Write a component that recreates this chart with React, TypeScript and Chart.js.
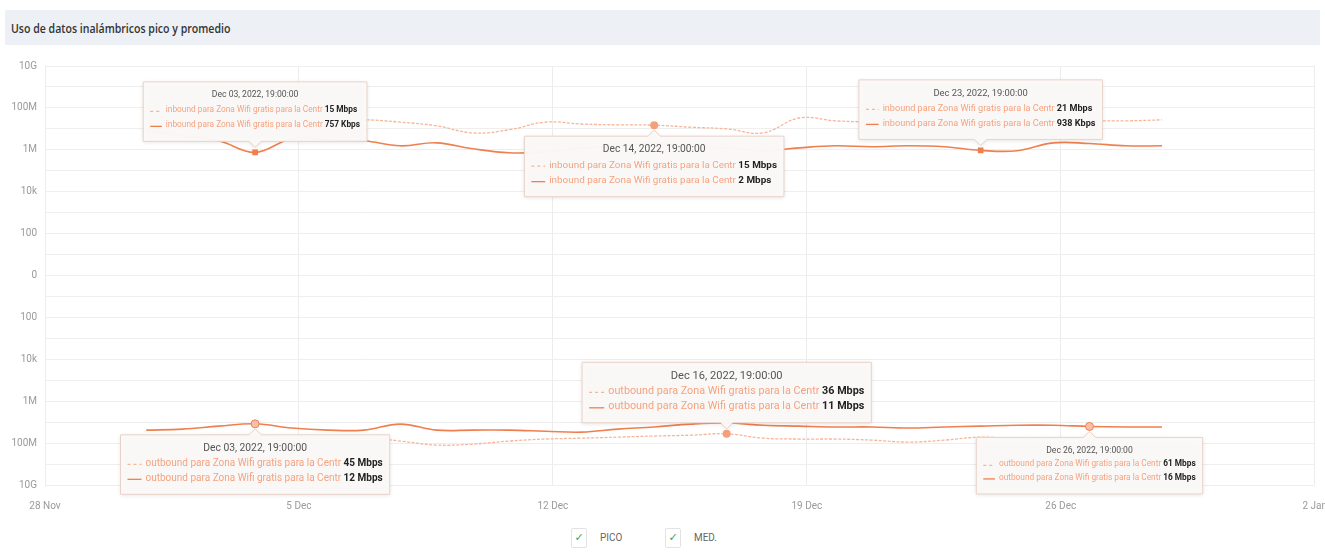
import React, { useEffect, useRef } from "react";
import { Chart, registerables } from "chart.js";

Chart.register(...registerables);

// ---------- data ----------
const days = [
  "Nov 30", "Dec 01", "Dec 02", "Dec 03", "Dec 04", "Dec 05", "Dec 06", "Dec 07", "Dec 08", "Dec 09",
  "Dec 10", "Dec 11", "Dec 12", "Dec 13", "Dec 14", "Dec 15", "Dec 16", "Dec 17", "Dec 18", "Dec 19",
  "Dec 20", "Dec 21", "Dec 22", "Dec 23", "Dec 24", "Dec 25", "Dec 26", "Dec 27", "Dec 28",
];
// Mbps
const inboundPeak = [17, 19, 17, 15, 21, 24, 27, 21, 14, 6.4, 9, 21, 17, 15.5, 15, 12, 10, 6.4, 33, 24, 21, 19, 17, 21, 19, 21, 24, 24, 27];
const inboundAvg = [9, 4.6, 2.7, 0.757, 3.3, 3.0, 2.7, 1.55, 2.15, 1.12, 0.72, 0.8, 1.2, 1.5, 2, 1.4, 1.2, 0.9, 1.24, 1.55, 1.4, 1.55, 1.4, 0.938, 0.9, 2.15, 2.0, 1.55, 1.55];
const outboundPeak = [46, 46, 42, 45, 52, 52, 52, 80, 124, 112, 80, 64, 58, 52, 46, 42, 36, 58, 64, 64, 72, 90, 72, 52, 64, 64, 61, 64, 64];
const outboundAvg = [24, 21.5, 15.5, 12, 19, 24, 24, 12.4, 24, 24, 24, 27, 30, 21.5, 17, 12.4, 11, 14, 15.5, 17, 17, 19, 17, 15.5, 14, 14, 16, 17, 17];

const xTickLabels = ["28 Nov", "5 Dec", "12 Dec", "19 Dec", "26 Dec", "2 Jan"];
const yTickLabels: Record<string, string> = { "10": "10G", "8": "100M", "6": "1M", "4": "10k", "2": "100", "0": "0" };

const seriesNames = ["PICO", "MED."];
const titleText = "Uso de datos inalámbricos pico y promedio";

// tooltips: dataset index of marker, point index, direction, placement, font size
const tooltipSpecs = [
  { ds: 1, idx: 3, dir: "inbound", place: "above", size: 8.3, gap: 15 },
  { ds: 0, idx: 14, dir: "inbound", place: "below", size: 9.9, gap: 15.5 },
  { ds: 1, idx: 23, dir: "inbound", place: "above", size: 9.1, gap: 15 },
  { ds: 3, idx: 3, dir: "outbound", place: "below", size: 10, gap: 15 },
  { ds: 2, idx: 16, dir: "outbound", place: "above", size: 10.8, gap: 15.5 },
  { ds: 3, idx: 26, dir: "outbound", place: "below", size: 8.3, gap: 13.5 },
];

// ---------- helpers ----------
const dayOffset = (d: string) => {
  const [m, n] = d.split(" ");
  const day = parseInt(n, 10);
  return (m === "Nov" ? day - 28 : day + 2) + 19 / 24;
};
const toLog = (mbps: number) => Math.log10(mbps * 1e6);
const fmt = (mbps: number) => (mbps >= 1 ? `${Math.round(mbps)} Mbps` : `${Math.round(mbps * 1000)} Kbps`);

const AVG_COLOR = "#f07f4e";
const PEAK_COLOR = "#f8b596";
const LABEL_COLOR = "#f5a27f";

const markerRadius = (ds: number) =>
  days.map((_, i) => (tooltipSpecs.some((t) => t.ds === ds && t.idx === i) ? 4 : 0));

const tooltipPlugin = {
  id: "staticTooltips",
  afterDatasetsDraw(chart: any) {
    const ctx = chart.ctx as CanvasRenderingContext2D;
    tooltipSpecs.forEach((t) => {
      const pt = chart.getDatasetMeta(t.ds).data[t.idx];
      const px = pt.x;
      const py = pt.y;
      const peak = t.dir === "inbound" ? inboundPeak[t.idx] : outboundPeak[t.idx];
      const avg = t.dir === "inbound" ? inboundAvg[t.idx] : outboundAvg[t.idx];
      const title = `${days[t.idx]}, 2022, 19:00:00`;
      const label = `${t.dir} para Zona Wifi gratis para la Centr `;
      const fam = "Roboto, 'Open Sans', sans-serif";
      const fN = `${t.size}px ${fam}`;
      const fB = `bold ${t.size}px ${fam}`;
      const fT = `${t.size + 0.3}px ${fam}`;
      ctx.save();
      ctx.font = fN;
      const labW = ctx.measureText(label).width;
      const symW = t.size * 1.4;
      ctx.font = fB;
      const v1 = fmt(peak);
      const v2 = fmt(avg);
      const valW = Math.max(ctx.measureText(v1).width, ctx.measureText(v2).width);
      ctx.font = fT;
      const titW = ctx.measureText(title).width;
      const lineW = symW + 4 + labW + valW;
      const w = Math.max(lineW, titW) + 14;
      const h = 13.5 + t.gap * 2 + 16;
      const caret = 6;
      const off = 5;
      const bx = px - w / 2;
      const by = t.place === "above" ? py - off - caret - h : py + off + caret;

      // box
      ctx.shadowColor = "rgba(0,0,0,0.12)";
      ctx.shadowBlur = 4;
      ctx.shadowOffsetY = 1;
      ctx.fillStyle = "rgba(251,249,248,0.97)";
      ctx.strokeStyle = "#e9d3c9";
      ctx.lineWidth = 1;
      ctx.beginPath();
      ctx.moveTo(bx, by);
      if (t.place === "below") {
        ctx.lineTo(px - caret, by);
        ctx.lineTo(px, by - caret);
        ctx.lineTo(px + caret, by);
      }
      ctx.lineTo(bx + w, by);
      ctx.lineTo(bx + w, by + h);
      if (t.place === "above") {
        ctx.lineTo(px + caret, by + h);
        ctx.lineTo(px, by + h + caret);
        ctx.lineTo(px - caret, by + h);
      }
      ctx.lineTo(bx, by + h);
      ctx.closePath();
      ctx.fill();
      ctx.shadowColor = "transparent";
      ctx.stroke();

      // title
      ctx.textBaseline = "middle";
      ctx.textAlign = "center";
      ctx.font = fT;
      ctx.fillStyle = "#555555";
      ctx.fillText(title, px, by + 13.5);

      // lines
      const lx = px - lineW / 2;
      [
        { y: by + 13.5 + t.gap, dash: true, v: v1 },
        { y: by + 13.5 + t.gap * 2, dash: false, v: v2 },
      ].forEach((ln) => {
        ctx.strokeStyle = ln.dash ? PEAK_COLOR : AVG_COLOR;
        ctx.lineWidth = 1.3;
        ctx.setLineDash(ln.dash ? [3, 3] : []);
        ctx.beginPath();
        ctx.moveTo(lx, ln.y + 1);
        ctx.lineTo(lx + symW, ln.y + 1);
        ctx.stroke();
        ctx.setLineDash([]);
        ctx.textAlign = "left";
        ctx.font = fN;
        ctx.fillStyle = LABEL_COLOR;
        ctx.fillText(label, lx + symW + 4, ln.y);
        ctx.font = fB;
        ctx.fillStyle = "#222222";
        ctx.fillText(ln.v, lx + symW + 4 + labW, ln.y);
      });
      ctx.restore();
    });
  },
};

export default function App() {
  const canvasRef = useRef<HTMLCanvasElement | null>(null);

  useEffect(() => {
    if (!canvasRef.current) return;
    const xs = days.map(dayOffset);
    const mk = (vals: number[], sign: number) => vals.map((v, i) => ({ x: xs[i], y: sign * toLog(v) }));
    const chart = new Chart(canvasRef.current, {
      type: "line",
      data: {
        datasets: [
          {
            label: "inbound PICO",
            data: mk(inboundPeak, 1),
            borderColor: PEAK_COLOR,
            backgroundColor: "#f5a07a",
            borderWidth: 1.3,
            borderDash: [3, 1.5],
            tension: 0.4,
            pointRadius: markerRadius(0),
            pointBorderWidth: 0,
          },
          {
            label: "inbound MED.",
            data: mk(inboundAvg, 1),
            borderColor: AVG_COLOR,
            backgroundColor: AVG_COLOR,
            borderWidth: 1.6,
            tension: 0.4,
            pointRadius: markerRadius(1),
            pointStyle: "rect",
            pointBorderWidth: 0,
          },
          {
            label: "outbound PICO",
            data: mk(outboundPeak, -1),
            borderColor: PEAK_COLOR,
            backgroundColor: "#f5a07a",
            borderWidth: 1.3,
            borderDash: [3, 1.5],
            tension: 0.4,
            pointRadius: markerRadius(2),
            pointBorderWidth: 0,
          },
          {
            label: "outbound MED.",
            data: mk(outboundAvg, -1),
            borderColor: AVG_COLOR,
            backgroundColor: "#f8c0a8",
            borderWidth: 1.6,
            tension: 0.4,
            pointRadius: markerRadius(3),
            pointBorderColor: AVG_COLOR,
            pointBorderWidth: 1,
          },
        ],
      },
      options: {
        animation: false,
        responsive: false,
        maintainAspectRatio: false,
        layout: { padding: { top: 16, right: 0, left: 0, bottom: 0 } },
        plugins: { legend: { display: false }, tooltip: { enabled: false }, title: { display: false } },
        scales: {
          x: {
            type: "linear",
            min: 0,
            max: 35,
            ticks: {
              stepSize: 7,
              autoSkip: false,
              maxRotation: 0,
              padding: 15,
              color: "#9a9a9a",
              font: { size: 10, family: "Roboto, sans-serif" },
              callback: (v: any) => xTickLabels[Math.round(Number(v) / 7)] ?? "",
            },
            grid: { color: "#ececec", drawTicks: false },
            border: { display: false },
          },
          y: {
            min: -10,
            max: 10,
            ticks: {
              stepSize: 1,
              autoSkip: false,
              padding: 8,
              color: "#9a9a9a",
              font: { size: 10, family: "Roboto, sans-serif" },
              callback: (v: any) => {
                const r = Math.round(Number(v));
                return r % 2 === 0 ? yTickLabels[String(Math.abs(r))] ?? "" : "";
              },
            },
            grid: { color: "#eeeeee", drawTicks: false },
            border: { display: false },
            afterFit: (s: any) => {
              s.width = 45;
            },
          },
        },
      },
      plugins: [tooltipPlugin],
    } as any);
    return () => chart.destroy();
  }, []);

  const legendItem = (left: number, text: string) => (
    <React.Fragment key={text}>
      <div
        style={{
          position: "absolute",
          left,
          top: 528,
          width: 16,
          height: 20,
          border: "1px solid #e3e3e3",
          borderRadius: 2,
          boxSizing: "border-box",
          color: "#3aa36b",
          fontSize: 11,
          lineHeight: "18px",
          textAlign: "center",
          fontFamily: "'DejaVu Sans', sans-serif",
        }}
      >
        ✓
      </div>
      <div
        style={{
          position: "absolute",
          left: left + 29,
          top: 531,
          fontSize: 11,
          color: "#666",
          fontFamily: "Roboto, sans-serif",
          transform: "scaleX(0.9)",
          transformOrigin: "left center",
        }}
      >
        {text}
      </div>
    </React.Fragment>
  );

  return (
    <div style={{ position: "absolute", left: 0, top: 0, width: 1325, height: 560, overflow: "hidden", background: "#fff" }}>
      <div
        style={{
          position: "absolute",
          left: 5,
          top: 10,
          width: 1315,
          height: 35,
          background: "#edf0f5",
        }}
      >
        <div
          style={{
            position: "absolute",
            left: 6,
            top: 10,
            fontFamily: "'Open Sans', sans-serif",
            fontWeight: 600,
            fontSize: 12,
            color: "#333",
            whiteSpace: "nowrap",
            transform: "scaleX(0.88)",
            transformOrigin: "left center",
          }}
        >
          {titleText}
        </div>
      </div>
      <canvas
        ref={canvasRef}
        width={1342}
        height={477}
        style={{ position: "absolute", left: 0, top: 50, width: 1342, height: 477 }}
      />
      {legendItem(571, seriesNames[0])}
      {legendItem(665, seriesNames[1])}
    </div>
  );
}
